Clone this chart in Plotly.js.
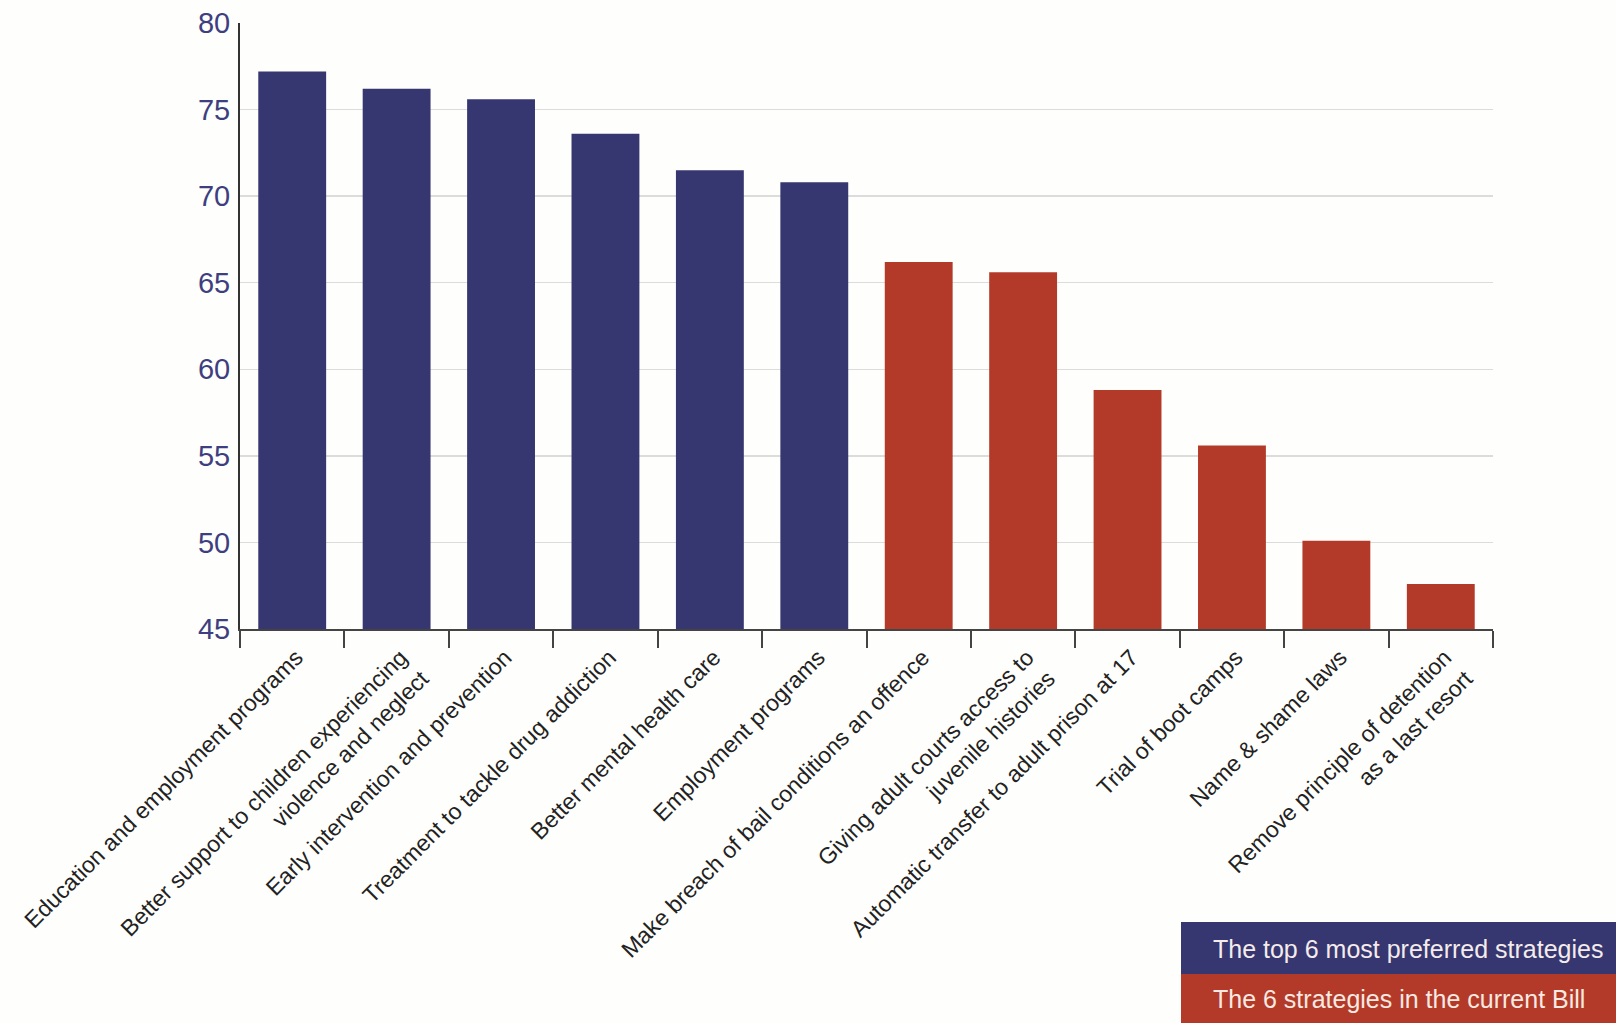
<!DOCTYPE html>
<html>
<head>
<meta charset="utf-8">
<script src="https://cdn.plot.ly/plotly-3.0.1.min.js"></script>
<style>html,body{margin:0;padding:0;background:#fefefc;}</style>
</head>
<body>
<div id="chart" style="width:1616px;height:1023px;"></div>
<script>
// ---- data ----
const topCategories = [
  "Education and employment programs",
  "Better support to children experiencing<br>violence and neglect",
  "Early intervention and prevention",
  "Treatment to tackle drug addiction",
  "Better mental health care",
  "Employment programs"
];
const topValues = [77.2, 76.2, 75.6, 73.6, 71.5, 70.8];

const billCategories = [
  "Make breach of bail conditions an offence",
  "Giving adult courts access to<br>juvenile histories",
  "Automatic transfer to adult prison at 17",
  "Trial of boot camps",
  "Name & shame laws",
  "Remove principle of detention<br>as a last resort"
];
const billValues = [66.2, 65.6, 58.8, 55.6, 50.1, 47.6];

const seriesNames = ["The top 6 most preferred strategies", "The 6 strategies in the current Bill"];
const yTicks = [45, 50, 55, 60, 65, 70, 75, 80];

// ---- styling ----
const navy = "#363670";
const red = "#b33a28";
const W = 1616, H = 1023;
const M = {l: 240, r: 123, t: 23, b: 394};
const pw = W - M.l - M.r, ph = H - M.t - M.b;
const px = x => (x - M.l) / pw;          // pixel -> paper x
const py = y => (H - M.b - y) / ph;      // pixel -> paper y

const traces = [
  {type: "bar", x: topCategories, y: topValues, name: seriesNames[0],
   marker: {color: navy}, hoverinfo: "x+y"},
  {type: "bar", x: billCategories, y: billValues, name: seriesNames[1],
   marker: {color: red}, hoverinfo: "x+y"}
];

const legendBoxes = [
  {top: 922, bottom: 974, color: navy, text: seriesNames[0], font: "#f4ecea"},
  {top: 974, bottom: 1023, color: red, text: seriesNames[1], font: "#f8e9e2"}
];

const layout = {
  width: W, height: H,
  margin: {l: M.l, r: M.r, t: M.t, b: M.b, pad: 0},
  paper_bgcolor: "#fefefc",
  plot_bgcolor: "#fefefc",
  showlegend: false,
  bargap: 0.35,
  font: {family: "Liberation Sans, Arial, sans-serif"},
  xaxis: {
    type: "category",
    categoryorder: "array",
    categoryarray: topCategories.concat(billCategories),
    tickangle: -45,
    tickson: "boundaries",
    ticks: "outside",
    ticklen: 17,
    tickwidth: 2,
    tickcolor: "#444",
    showline: true,
    linecolor: "#444",
    linewidth: 2,
    showgrid: false,
    ticklabelstandoff: 4,
    ticklabelshift: 4,
    tickfont: {size: 23, color: "#222", family: "Liberation Sans, Arial, sans-serif"}
  },
  yaxis: {
    range: [45, 80],
    tickvals: yTicks,
    ticktext: yTicks.map(String),
    showline: true,
    linecolor: "#333",
    linewidth: 2,
    ticks: "",
    showgrid: true,
    gridcolor: "#dcdcdc",
    gridwidth: 1.5,
    zeroline: false,
    ticklabelstandoff: 2,
    tickfont: {size: 29, color: "#3e3f80", family: "Liberation Sans, Arial, sans-serif"}
  },
  shapes: legendBoxes.map(b => ({
    type: "rect", xref: "paper", yref: "paper",
    x0: px(1181), x1: px(1620), y0: py(b.bottom), y1: py(b.top),
    fillcolor: b.color, line: {width: 0}, layer: "above"
  })),
  annotations: legendBoxes.map(b => ({
    xref: "paper", yref: "paper", x: px(1211), y: py((b.top + b.bottom) / 2 + 1),
    xanchor: "left", yanchor: "middle", text: b.text, showarrow: false, align: "left",
    font: {size: 25, color: b.font, family: "Liberation Sans, Arial, sans-serif"}
  }))
};

Plotly.newPlot("chart", traces, layout, {displayModeBar: false, staticPlot: true});
</script>
</body>
</html>
